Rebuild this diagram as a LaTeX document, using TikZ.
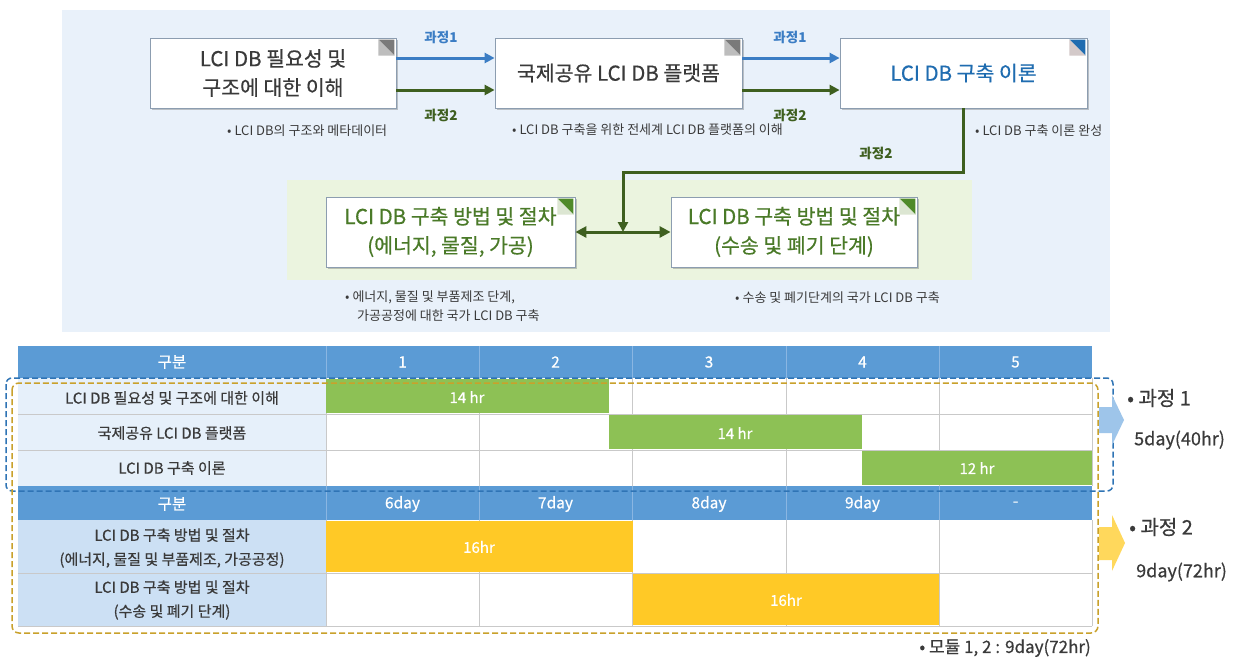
\documentclass[tikz,border=0pt]{standalone}
\usepackage{fontspec}
\setmainfont{Noto Sans CJK KR}
\newfontfamily\medfont[FakeBold=0.5]{Noto Sans CJK KR}
\usetikzlibrary{arrows.meta,shadows}
\definecolor{bgblue}{HTML}{E9F1FA}
\definecolor{bggreen}{HTML}{EBF4DF}
\definecolor{boxline}{HTML}{8C9DB0}
\definecolor{txtgray}{HTML}{3A3A3A}
\definecolor{p1blue}{HTML}{3B7DC4}
\definecolor{p2green}{HTML}{3E5F1F}
\definecolor{titleblue}{HTML}{1F6CB0}
\definecolor{titlegreen}{HTML}{4A7A28}
\definecolor{hdrblue}{HTML}{5B9BD5}
\definecolor{hdrline}{HTML}{8AB6E2}
\definecolor{cellpale}{HTML}{E6F0FA}
\definecolor{cellblue}{HTML}{CCE0F4}
\definecolor{gridgray}{HTML}{C9C9C9}
\definecolor{barg}{HTML}{8DC155}
\definecolor{bary}{HTML}{FFC926}
\definecolor{dashblue}{HTML}{2F74B5}
\definecolor{dashgold}{HTML}{C9A12B}
\definecolor{arrblue}{HTML}{9EC5EA}
\definecolor{arryel}{HTML}{FFD85C}
\definecolor{foldgray}{HTML}{7A7A7A}
\definecolor{foldlight}{HTML}{BDBDBD}
\definecolor{foldpink}{HTML}{D3C9C9}
\definecolor{foldgreen}{HTML}{4F8A2A}
\definecolor{foldgl}{HTML}{DCE6D2}
\newcommand\fsz[2]{\fontsize{#1}{#2}\selectfont}
\begin{document}
\begin{tikzpicture}[x=1pt,y=-1pt,
  box/.style={draw=boxline, line width=0.8pt, fill=white, minimum height=70pt, align=center, inner sep=0pt,
    drop shadow={shadow xshift=1.5pt, shadow yshift=-1.5pt, opacity=0.3, fill=black!70}},
  ttl/.style={font=\medfont\fsz{20.5}{29}, text=txtgray},
  lbl/.style={font=\bfseries\fsz{13.5}{15}, inner sep=0pt},
  note/.style={font=\fsz{13}{19}, text=txtgray, align=left, inner sep=0pt, anchor=west},
  p1/.style={draw=p1blue, line width=3pt, -{Triangle[length=10pt,width=10pt]}},
  p2/.style={draw=p2green, line width=3pt, -{Triangle[length=10pt,width=10pt]}},
  cell/.style={font=\medfont\fsz{15}{24}, text=txtgray, align=center, inner sep=0pt},
  hdr/.style={font=\medfont\fsz{15.5}{18}, text=white, inner sep=0pt},
  bartxt/.style={font=\medfont\fsz{15}{18}, text=white, inner sep=0pt},
  side/.style={font=\medfont\fsz{20}{22}, text=txtgray, inner sep=0pt, anchor=west},
  sidesub/.style={font=\medfont\fsz{18}{20}, text=txtgray, inner sep=0pt, anchor=west},
]
\useasboundingbox (0,0) rectangle (1245,659);
\fill[white] (0,0) rectangle (1245,659);

% ---------- top panel ----------
\fill[bgblue] (62,10) rectangle (1110,332);
\fill[bggreen] (287,180) rectangle (972,280);

\node[box, ttl, minimum width=246pt] (b1) at (273,73) {LCI DB 필요성 및\\구조에 대한 이해};
\node[box, ttl, minimum width=247pt] (b2) at (618.5,73) {국제공유 LCI DB 플랫폼};
\node[box, ttl, minimum width=247pt, text=titleblue] (b3) at (963.5,73) {LCI DB 구축 이론};
\node[box, ttl, minimum width=249pt, text=titlegreen] (b4) at (450.5,232) {LCI DB 구축 방법 및 절차\\(에너지, 물질, 가공)};
\node[box, ttl, minimum width=246pt, text=titlegreen] (b5) at (794,232) {LCI DB 구축 방법 및 절차\\(수송 및 폐기 단계)};

% folded corners
\fill[foldgray] ([shift={(-18,2)}]b1.north east) -- ++(16,0) -- ++(0,16) -- cycle;
\fill[foldlight] ([shift={(-18,2)}]b1.north east) -- ++(0,16) -- ++(16,0) -- cycle;
\fill[foldgray] ([shift={(-18,2)}]b2.north east) -- ++(16,0) -- ++(0,16) -- cycle;
\fill[foldlight] ([shift={(-18,2)}]b2.north east) -- ++(0,16) -- ++(16,0) -- cycle;
\fill[titleblue] ([shift={(-18,2)}]b3.north east) -- ++(16,0) -- ++(0,16) -- cycle;
\fill[foldpink] ([shift={(-18,2)}]b3.north east) -- ++(0,16) -- ++(16,0) -- cycle;
\fill[foldgreen] ([shift={(-18,2)}]b4.north east) -- ++(16,0) -- ++(0,16) -- cycle;
\fill[foldgl] ([shift={(-18,2)}]b4.north east) -- ++(0,16) -- ++(16,0) -- cycle;
\fill[foldgreen] ([shift={(-18,2)}]b5.north east) -- ++(16,0) -- ++(0,16) -- cycle;
\fill[foldgl] ([shift={(-18,2)}]b5.north east) -- ++(0,16) -- ++(16,0) -- cycle;

% connectors
\draw[p1] ([yshift=15pt]b1.east) -- ([yshift=15pt]b2.west);
\draw[p2] ([yshift=-17pt]b1.east) -- ([yshift=-17pt]b2.west);
\draw[p1] ([yshift=15pt]b2.east) -- ([yshift=15pt]b3.west);
\draw[p2] ([yshift=-17pt]b2.east) -- ([yshift=-17pt]b3.west);
\node[lbl, text=p1blue] (l1) at (441,37) {과정1};
\node[lbl, text=p2green] (l2) at (441,115) {과정2};
\node[lbl, text=p1blue] (l3) at (790,37) {과정1};
\node[lbl, text=p2green] (l4) at (790,115) {과정2};
\node[lbl, text=p2green] (l5) at (876,153) {과정2};

\coordinate (j) at (623,172);
\coordinate (jm) at (623,232);
\draw[p2, {Triangle[length=11pt,width=11pt]}-{Triangle[length=11pt,width=11pt]}] (b4.east) -- (b5.west);
\draw[p2] (b3.south) |- (j) -- (jm);

% notes
\node[note] (n1) at (227,131) {• LCI DB의 구조와 메타데이터};
\node[note] (n2) at (512,130) {• LCI DB 구축을 위한 전세계 LCI DB 플랫폼의 이해};
\node[note] (n3) at (975,131) {• LCI DB 구축 이론 완성};
\node[note] (n4) at (345,297) {• 에너지, 물질 및 부품제조 단계,};
\node[note] (n5) at (357,316) {가공공정에 대한 국가 LCI DB 구축};
\node[note] (n6) at (735,298) {• 수송 및 폐기단계의 국가 LCI DB 구축};

% ---------- table ----------
\fill[hdrblue] (18,346) rectangle (1092,378);
\fill[hdrblue] (18,486) rectangle (1092,520);
\foreach \x in {326,479,632,786,939} {
  \draw[hdrline, line width=0.8pt] (\x,346) -- (\x,378);
  \draw[hdrline, line width=0.8pt] (\x,486) -- (\x,520);
}
\fill[cellpale] (18,378) rectangle (326,486);
\fill[cellblue] (18,520) rectangle (326,626);
\fill[white] (326,378) rectangle (1092,486);
\fill[white] (326,520) rectangle (1092,626);
\foreach \y in {414,450} \draw[gridgray, line width=0.8pt] (18,\y) -- (1092,\y);
\draw[gridgray, line width=0.8pt] (18,573) -- (1092,573);
\draw[gridgray, line width=0.8pt] (18,626) -- (1092,626);
\draw[gridgray, line width=0.8pt] (1092,378) -- (1092,486);
\draw[gridgray, line width=0.8pt] (1092,520) -- (1092,626);
\foreach \x in {326,479,632,786,939} {
  \draw[gridgray, line width=0.8pt] (\x,378) -- (\x,486);
  \draw[gridgray, line width=0.8pt] (\x,520) -- (\x,626);
}

% bars
\fill[barg] (326,379) rectangle (609,413);
\fill[barg] (609,415) rectangle (862,449);
\fill[barg] (862,451) rectangle (1092,485);
\fill[bary] (326,521) rectangle (633,572);
\fill[bary] (633,574) rectangle (939,625);

% header texts
\node[hdr] (h0) at (172,362) {구분};
\node[hdr] (h1) at (402.5,362) {1};
\node[hdr] (h2) at (555.5,362) {2};
\node[hdr] (h3) at (709,362) {3};
\node[hdr] (h4) at (862.5,362) {4};
\node[hdr] (h5) at (1015.5,362) {5};
\node[hdr] (g0) at (172,504) {구분};
\node[hdr] (g1) at (402.5,504) {6day};
\node[hdr] (g2) at (555.5,504) {7day};
\node[hdr] (g3) at (709,504) {8day};
\node[hdr] (g4) at (862.5,504) {9day};
\node[hdr] (g5) at (1015.5,504) {-};

% row labels
\node[cell] (r1) at (172,398) {LCI DB 필요성 및 구조에 대한 이해};
\node[cell] (r2) at (172,433) {국제공유 LCI DB 플랫폼};
\node[cell] (r3) at (172,468) {LCI DB 구축 이론};
\node[cell] (r4) at (172,548) {LCI DB 구축 방법 및 절차\\(에너지, 물질 및 부품제조, 가공공정)};
\node[cell] (r5) at (172,600) {LCI DB 구축 방법 및 절차\\(수송 및 폐기 단계)};

% bar texts
\node[bartxt] (t1) at (467,397) {14 hr};
\node[bartxt] (t2) at (735,433) {14 hr};
\node[bartxt] (t3) at (977,468) {12 hr};
\node[bartxt] (t4) at (479,547) {16hr};
\node[bartxt] (t5) at (786,600) {16hr};

% dashed groups
\draw[dashblue, line width=1.5pt, dash pattern=on 6pt off 3pt, rounded corners=6pt] (6,378) rectangle (1113,491);
\draw[dashgold, line width=1.5pt, dash pattern=on 6pt off 3pt, rounded corners=7pt] (12,383) rectangle (1098,633);

% side arrows
\fill[arrblue] (1099,407) -- (1112,407) -- (1112,395) -- (1124,420) -- (1112,445) -- (1112,433) -- (1099,433) -- cycle;
\fill[arryel] (1099,527) -- (1112,527) -- (1112,515) -- (1125,543) -- (1112,571) -- (1112,560) -- (1099,560) -- cycle;

\node[side] (s1) at (1127,398) {• 과정 1};
\node[sidesub] (s1b) at (1134,440) {5day(40hr)};
\node[side] (s2) at (1129,527) {• 과정 2};
\node[sidesub] (s2b) at (1136,572) {9day(72hr)};
\node[font=\medfont\fsz{17}{19}, text=txtgray, inner sep=0pt, anchor=east] (s3) at (1091,648) {• 모듈 1, 2 : 9day(72hr)};
\end{tikzpicture}
\end{document}
